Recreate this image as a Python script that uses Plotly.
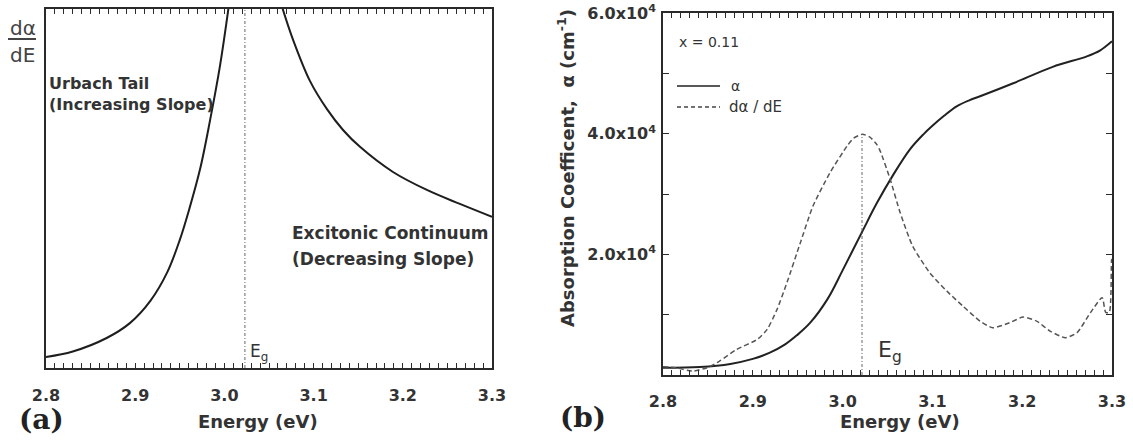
import plotly.graph_objects as go

W, H = 1133, 441

# ---------------- data: panel (a) ----------------
a_E_tail = [2.800, 2.830, 2.868, 2.894, 2.917, 2.936, 2.950, 2.961, 2.973, 2.984, 2.995, 3.004, 3.009]
a_D_tail = [3.06, 4.6, 8.36, 12.5, 18.7, 26.7, 35.7, 44.6, 55.7, 69.1, 84.1, 99.2, 108.6]
a_E_cont = [3.065, 3.077, 3.096, 3.115, 3.133, 3.152, 3.189, 3.227, 3.264, 3.300]
a_D_cont = [100.3, 91.4, 79.9, 72.1, 66.3, 61.6, 54.6, 49.6, 45.7, 42.1]
a_Eg = 3.023

# ---------------- data: panel (b) ----------------
b_E_alpha = [2.800, 2.841, 2.875, 2.900, 2.919, 2.936, 2.949, 2.964, 2.983, 3.000, 3.022, 3.038,
             3.056, 3.075, 3.090, 3.100, 3.113, 3.127, 3.141, 3.156, 3.190, 3.234, 3.272, 3.287, 3.300]
b_alpha = [1210, 1340, 1840, 2670, 3700, 5070, 6570, 8670, 12530, 17340, 23810, 28450,
           33090, 37400, 39890, 41300, 42960, 44530, 45530, 46360, 48350, 51080, 52820, 53820, 55310]
b_E_deriv = [2.800, 2.815, 2.833, 2.849, 2.863, 2.882, 2.905, 2.916, 2.927, 2.938, 2.953,
             2.967, 2.986, 3.005, 3.012, 3.022, 3.030, 3.038, 3.042, 3.053, 3.064, 3.078, 3.097,
             3.116, 3.134, 3.153, 3.167, 3.186, 3.201, 3.216, 3.231, 3.248, 3.261, 3.276, 3.289,
             3.293, 3.297, 3.2995, 3.300]
b_deriv = [1380, 1180, 650, 1210, 2300, 4240, 5900, 7560, 10880, 15300, 21940,
           28000, 33540, 37950, 39230, 39890, 39480, 38230, 37070, 32430, 26960, 21370, 16960,
           13910, 11420, 8940, 7840, 8670, 9600, 8940, 7280, 6180, 7010, 10330, 12820,
           10380, 10380, 19160, 18830]
b_Eg = 3.0216
b_Eg_top = 39890

# ticks: every 0.01 eV, labelled every 0.1 eV
x_tickvals = [round(2.8 + i * 0.01, 2) for i in range(51)]
x_ticktext = [f"{v:.1f}" if i % 10 == 0 else "" for i, v in enumerate(x_tickvals)]
b_y_tickvals = [0, 10000, 20000, 30000, 40000, 50000, 60000]
b_y_ticktext = ["", "", "2.0x10<sup>4</sup>", "", "4.0x10<sup>4</sup>", "", "6.0x10<sup>4</sup>"]

AX = "#2a2a2a"
TXT = "#333333"
FONT = "DejaVu Sans"


def px(x):
    return x / W


def py(y):
    return 1 - y / H


fig = go.Figure()

# panel (a)
fig.add_trace(go.Scatter(x=a_E_tail, y=a_D_tail, mode="lines", line=dict(color="#1e1e1e", width=2, shape="spline", smoothing=1.0),
                         xaxis="x", yaxis="y", showlegend=False))
fig.add_trace(go.Scatter(x=a_E_cont, y=a_D_cont, mode="lines", line=dict(color="#1e1e1e", width=2, shape="spline", smoothing=1.0),
                         xaxis="x", yaxis="y", showlegend=False))
fig.add_trace(go.Scatter(x=[a_Eg, a_Eg], y=[0, 100], mode="lines", line=dict(color="#666", width=1, dash="3px,2px,1px,2px"),
                         xaxis="x", yaxis="y", showlegend=False))

# panel (b)
fig.add_trace(go.Scatter(x=b_E_alpha, y=b_alpha, mode="lines", line=dict(color="#222", width=2, shape="spline", smoothing=1.0),
                         xaxis="x2", yaxis="y2", showlegend=False))
fig.add_trace(go.Scatter(x=b_E_deriv, y=b_deriv, mode="lines", line=dict(color="#555", width=1.5, dash="5px,3px", shape="spline", smoothing=0.6),
                         xaxis="x2", yaxis="y2", showlegend=False))
fig.add_trace(go.Scatter(x=[b_Eg, b_Eg], y=[0, b_Eg_top], mode="lines", line=dict(color="#666", width=1, dash="3px,2px,1px,2px"),
                         xaxis="x2", yaxis="y2", showlegend=False))

tickfont = dict(family=FONT, size=16, color=TXT, weight="bold")

dom_a = [px(46), px(492)]
dom_b = [px(663), px(1112)]


def main_x(dom, anchor, standoff):
    return dict(domain=dom, anchor=anchor, range=[2.8, 3.3], tickmode="array", tickvals=x_tickvals,
                ticktext=x_ticktext, ticks="inside", ticklen=5, tickwidth=1.2, tickcolor=AX,
                showline=True, linecolor=AX, linewidth=1.5, mirror="ticks", showgrid=False, zeroline=False,
                tickfont=tickfont, ticklabelstandoff=standoff)


fig.update_layout(
    template="none",
    width=W, height=H, margin=dict(l=0, r=0, t=0, b=0, autoexpand=False),
    paper_bgcolor="white", plot_bgcolor="white",
    xaxis=main_x(dom_a, "y", 12),
    yaxis=dict(domain=[py(368), py(9)], anchor="x", range=[0, 100], showticklabels=False, ticks="",
               showline=True, linecolor=AX, linewidth=1.5, mirror=True, showgrid=False, zeroline=False),
    xaxis2=main_x(dom_b, "y2", 11),
    yaxis2=dict(domain=[py(375), py(13)], anchor="x2", range=[0, 60000], tickmode="array",
                tickvals=b_y_tickvals, ticktext=b_y_ticktext,
                ticks="inside", ticklen=6, tickwidth=1.4, tickcolor=AX, showline=True, linecolor=AX, linewidth=1.5,
                mirror="ticks", showgrid=False, zeroline=False, tickfont=tickfont, ticklabelstandoff=2),
)

ann = []


def text(x, y, s, size, bold=False, xanchor="left", family=FONT, color=TXT, textangle=0, align="left"):
    ann.append(dict(x=px(x), y=py(y), xref="paper", yref="paper", text=s, showarrow=False, xanchor=xanchor,
                    yanchor="middle", textangle=textangle, align=align,
                    font=dict(family=family, size=size, color=color, weight="bold" if bold else "normal")))


# panel (a) texts
text(8, 28, "dα", 20, color="#444")
text(8, 55, "dE", 20, color="#444")
text(47, 94, "Urbach Tail<br>(Increasing Slope)", 16, bold=True)
text(290, 233, "Excitonic Continuum", 17, bold=True)
text(290, 259, "(Decreasing Slope)", 17, bold=True)
text(248, 352, "E<sub>g</sub>", 17, color="#333")
text(258, 421, "Energy (eV)", 18, bold=True, xanchor="center")
text(41, 419, "(a)", 28, bold=True, xanchor="center", family="DejaVu Serif", color="#222")

# panel (b) texts
text(677, 42, "x = 0.11", 14, color="#333")
text(729, 86, "α", 14, color="#333")
text(727, 107, "dα / dE", 15, color="#333")
text(876, 351, "E<sub>g</sub>", 22, color="#333")
text(900, 421, "Energy (eV)", 18, bold=True, xanchor="center")
text(583, 417, "(b)", 28, bold=True, xanchor="center", family="DejaVu Serif", color="#222")
text(566, 168, "Absorption Coefficent,  α (cm<sup>-1</sup>)", 18, bold=True, xanchor="center", textangle=-90)

fig.update_layout(annotations=ann)

shapes = [
    dict(type="line", xref="paper", yref="paper", x0=px(8), x1=px(36), y0=py(39), y1=py(39),
         line=dict(color="#444", width=2)),
    dict(type="line", xref="paper", yref="paper", x0=px(677), x1=px(720), y0=py(86), y1=py(86),
         line=dict(color="#222", width=1.5)),
    dict(type="line", xref="paper", yref="paper", x0=px(677), x1=px(720), y0=py(107), y1=py(107),
         line=dict(color="#444", width=1.3, dash="4px,3px")),
]
fig.update_layout(shapes=shapes)

fig.write_html("out.html")
